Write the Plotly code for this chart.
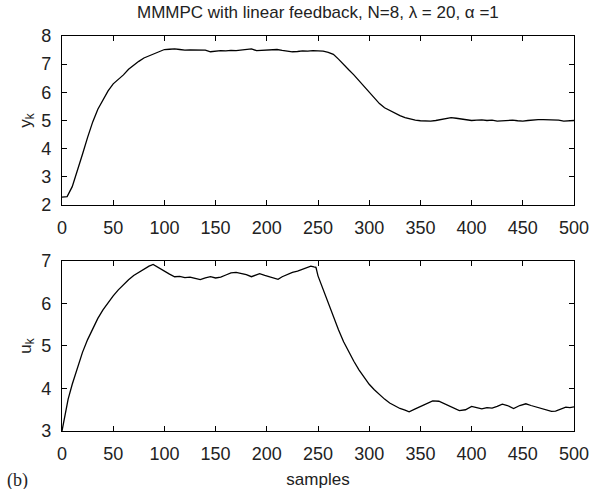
import plotly.graph_objects as go

# ---- data ----
y_samples = list(range(0, 501, 5))
y_values = [
    2.28, 2.30, 2.65, 3.20, 3.80, 4.40, 4.95, 5.40, 5.75, 6.05,
    6.30, 6.45, 6.62, 6.82, 6.97, 7.10, 7.22, 7.30, 7.38, 7.45,
    7.52, 7.53, 7.54, 7.52, 7.50, 7.51, 7.50, 7.49, 7.50, 7.44,
    7.47, 7.48, 7.47, 7.49, 7.48, 7.50, 7.53, 7.54, 7.48, 7.49,
    7.51, 7.52, 7.52, 7.49, 7.46, 7.44, 7.45, 7.47, 7.46, 7.48,
    7.47, 7.46, 7.42, 7.35, 7.18, 6.98, 6.80, 6.62, 6.42, 6.20,
    6.00, 5.80, 5.60, 5.45, 5.35, 5.25, 5.17, 5.10, 5.05, 5.01,
    4.99, 4.98, 4.98, 5.00, 5.04, 5.08, 5.10, 5.08, 5.05, 5.02,
    5.00, 5.01, 5.02, 5.00, 5.01, 4.98, 4.99, 5.00, 5.01, 4.99,
    4.98, 5.00, 5.02, 5.03, 5.03, 5.02, 5.03, 5.01, 4.98, 4.99,
    5.00,
]

u_samples = [
    0, 3, 6, 10, 15, 20, 25, 30, 35, 40, 45, 50, 55, 60, 65, 70, 75, 80, 85, 89,
    95, 100, 105, 110, 115, 120, 125, 130, 135, 140, 145, 150, 155, 160, 165, 170,
    175, 180, 185, 190, 193, 198, 203, 208, 211, 215, 220, 225, 230, 235, 240, 243,
    246, 248, 250, 255, 260, 265, 270, 275, 280, 285, 290, 295, 300, 305, 310, 315,
    320, 325, 330, 335, 339, 345, 350, 355, 362, 368, 375, 382, 388, 394, 400, 405,
    410, 415, 420, 425, 430, 435, 441, 447, 453, 458, 465, 472, 478, 482, 488, 492,
    496, 500,
]
u_values = [
    3.00, 3.40, 3.75, 4.10, 4.50, 4.85, 5.15, 5.42, 5.65, 5.85, 6.02, 6.18, 6.32,
    6.45, 6.56, 6.66, 6.74, 6.82, 6.88, 6.92,
    6.83, 6.76, 6.69, 6.63, 6.64, 6.61, 6.62, 6.59, 6.56, 6.60, 6.63, 6.60, 6.62,
    6.67, 6.72, 6.73, 6.71, 6.68, 6.63, 6.68, 6.70, 6.66, 6.63, 6.60, 6.57, 6.63,
    6.68, 6.73, 6.76, 6.80, 6.85, 6.88, 6.86, 6.85,
    6.65, 6.33, 6.00, 5.67, 5.38, 5.10, 4.86, 4.64, 4.44, 4.26, 4.10, 3.97, 3.85,
    3.75, 3.66, 3.59, 3.53, 3.49, 3.45,
    3.52, 3.58, 3.64, 3.71, 3.70, 3.62, 3.54, 3.48, 3.50, 3.58, 3.55, 3.52, 3.55,
    3.54, 3.58, 3.63, 3.60, 3.53, 3.60, 3.64, 3.60, 3.55, 3.50, 3.46, 3.47, 3.53,
    3.56, 3.55, 3.57,
]

title_text = "MMMPC with linear feedback, N=8, λ = 20, α =1"
x_ticks = [0, 50, 100, 150, 200, 250, 300, 350, 400, 450, 500]
y_ticks_top = [2, 3, 4, 5, 6, 7, 8]
y_ticks_bot = [3, 4, 5, 6, 7]

FONT = "Liberation Sans, Arial, sans-serif"
TXT = "#222"

fig = go.Figure()
fig.add_trace(go.Scatter(x=y_samples, y=y_values, mode="lines",
                         line=dict(color="black", width=1.3),
                         xaxis="x", yaxis="y", showlegend=False))
fig.add_trace(go.Scatter(x=u_samples, y=u_values, mode="lines",
                         line=dict(color="black", width=1.3),
                         xaxis="x2", yaxis="y2", showlegend=False))

axis_common = dict(showline=True, mirror="ticks", linecolor="black", linewidth=1.2,
                   ticks="inside", ticklen=5, tickcolor="black", tickwidth=1,
                   showgrid=False, zeroline=False, automargin=False,
                   tickfont=dict(family=FONT, size=18, color=TXT))

fig.update_layout(
    width=594, height=489,
    margin=dict(l=62, r=20, t=36, b=58),
    paper_bgcolor="white", plot_bgcolor="white",
    xaxis=dict(domain=[0, 1], range=[0, 500], tickvals=x_ticks, anchor="y",
               ticklabelstandoff=6, **axis_common),
    yaxis=dict(domain=[0.5722, 1], range=[2, 8], tickvals=y_ticks_top, anchor="x",
               ticklabelstandoff=6,
               title=dict(text="y<sub>k</sub>", font=dict(family=FONT, size=17, color=TXT), standoff=5),
               **axis_common),
    xaxis2=dict(domain=[0, 1], range=[0, 500], tickvals=x_ticks, anchor="y2",
                ticklabelstandoff=6,
                title=dict(text="samples", font=dict(family=FONT, size=17, color=TXT), standoff=12),
                **axis_common),
    yaxis2=dict(domain=[0, 0.4304], range=[3, 7], tickvals=y_ticks_bot, anchor="x2",
                ticklabelstandoff=6,
                title=dict(text="u<sub>k</sub>", font=dict(family=FONT, size=17, color=TXT), standoff=5),
                **axis_common),
    annotations=[
        dict(text=title_text, xref="paper", yref="paper", x=0.5, y=1, yshift=12,
             xanchor="center", yanchor="bottom", showarrow=False,
             font=dict(family=FONT, size=17, color=TXT)),
        dict(text="(b)", xref="paper", yref="paper", x=0, y=0, xshift=-57, yshift=-49,
             xanchor="left", yanchor="middle", showarrow=False,
             font=dict(family="Liberation Serif, Times New Roman, serif", size=18, color=TXT)),
    ],
)

fig.write_html("out.html")
